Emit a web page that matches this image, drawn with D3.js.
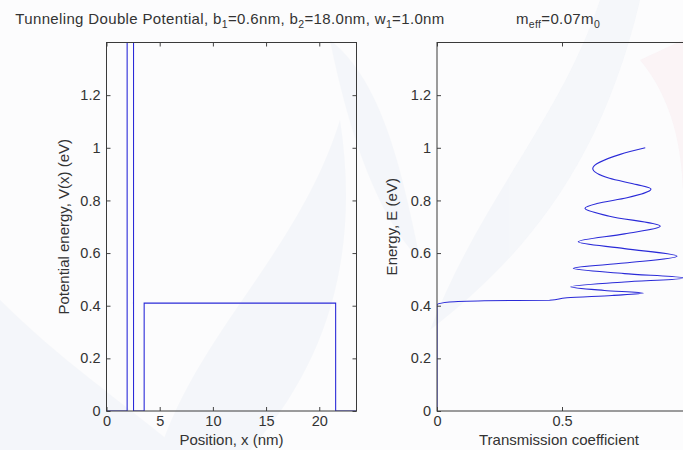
<!DOCTYPE html>
<html>
<head>
<meta charset="utf-8">
<script src="https://cdn.jsdelivr.net/npm/d3@7"></script>
<style>
  body { margin: 0; background: #fcfcfd; }
  svg { display: block; font-family: "Liberation Sans", Arial, sans-serif; }
  .tick text { fill: #333; font-size: 14.5px; }
  .lbl { fill: #333; font-size: 15px; }
  .ttl { letter-spacing: 0.35px; }
</style>
</head>
<body>
<div class="chart"></div>
<script>
// potential profile (nm, eV) - first barrier goes off the top of the plot
var position = [0, 1.94, 1.94, 2.54, 2.54, 3.54, 3.54, 21.54, 21.54, 23.5];
var potential = [0, 0, 3, 3, 0, 0, 0.41, 0.41, 0, 0];

// transmission vs energy
var energy = [0, 0.404, 0.414, 0.419, 0.421, 0.430, 0.439, 0.448, 0.458, 0.472, 0.490, 0.505, 0.522, 0.542, 0.562, 0.588, 0.617, 0.643, 0.673, 0.702, 0.740, 0.770, 0.788, 0.810, 0.843, 0.860, 0.884, 0.921, 0.975, 1.0];
var trans  = [0, 0.0, 0.05, 0.19, 0.45, 0.52, 0.70, 0.826, 0.67, 0.535, 0.75, 0.99, 0.75, 0.545, 0.75, 0.96, 0.75, 0.565, 0.75, 0.893, 0.69, 0.592, 0.64, 0.76, 0.856, 0.80, 0.69, 0.623, 0.733, 0.833];

var yTicks = [0, 0.2, 0.4, 0.6, 0.8, 1, 1.2];
var posTicks = [0, 5, 10, 15, 20];
var transTicks = [0, 0.5];   // the "1" sits past the right edge of the picture

var svgWidth = 683, svgHeight = 450;
var plotTop = 42.5, plotBottom = 411;
var leftBox = {x0: 106.5, x1: 356.5};
var rightBox = {x0: 437, x1: 687};
var lineColor = "#2a2ad8";

var svg = d3.select(".chart").append("svg")
    .attr("width", svgWidth)
    .attr("height", svgHeight);

// faint watermark shapes behind everything
var wm = svg.append("g").attr("fill", "#eef2f8").attr("opacity", 0.5);
wm.append("path").attr("d", "M160,450 C200,330 300,250 340,120 C360,250 330,360 250,450 Z");
wm.append("path").attr("d", "M330,40 C380,80 400,160 420,260 C380,220 350,140 330,40 Z");
wm.append("path").attr("d", "M600,0 C560,120 480,200 430,330 C520,260 600,170 640,0 Z");
wm.append("path").attr("d", "M0,300 C60,360 120,400 180,450 L0,450 Z");
svg.append("path").attr("d", "M640,60 C690,120 683,200 683,240 L683,40 Z")
    .attr("fill", "#f9ecef").attr("opacity", 0.5);

var yScale = d3.scaleLinear().domain([0, 1.4]).range([plotBottom, plotTop]);
var xPos = d3.scaleLinear().domain([0, 23.5]).range([leftBox.x0, leftBox.x1]);
var xTrans = d3.scaleLinear().domain([0, 1]).range([rightBox.x0, rightBox.x1]);

var fmt = function(d) { return String(+d.toFixed(1)); };

svg.append("clipPath").attr("id", "clipL").append("rect")
    .attr("x", leftBox.x0).attr("y", plotTop)
    .attr("width", leftBox.x1 - leftBox.x0).attr("height", plotBottom - plotTop);
svg.append("clipPath").attr("id", "clipR").append("rect")
    .attr("x", rightBox.x0).attr("y", plotTop)
    .attr("width", rightBox.x1 - rightBox.x0).attr("height", plotBottom - plotTop);

function drawAxes(xScale, xTicks, box) {
    var g = svg.append("g");
    g.append("g").attr("transform", `translate(0,${plotBottom})`)
        .call(d3.axisBottom(xScale).tickValues(xTicks).tickFormat(fmt)
            .tickSize(-4).tickSizeOuter(0).tickPadding(5));
    g.append("g").attr("transform", `translate(0,${plotTop})`)
        .call(d3.axisTop(xScale).tickValues(xTicks).tickFormat("")
            .tickSize(-4).tickSizeOuter(0));
    g.append("g").attr("transform", `translate(${box.x0},0)`)
        .call(d3.axisLeft(yScale).tickValues(yTicks).tickFormat(fmt)
            .tickSize(-4).tickSizeOuter(0).tickPadding(6));
    g.append("g").attr("transform", `translate(${box.x1},0)`)
        .call(d3.axisRight(yScale).tickValues(yTicks).tickFormat("")
            .tickSize(-4).tickSizeOuter(0));
    g.selectAll(".domain").remove();
    g.selectAll(".tick line").attr("stroke", "#444");
    g.selectAll(".tick text").attr("font-family", null).attr("font-size", null);
    g.append("rect")
        .attr("x", box.x0).attr("y", plotTop)
        .attr("width", box.x1 - box.x0).attr("height", plotBottom - plotTop)
        .attr("fill", "none").attr("stroke", "#3a3a3a").attr("stroke-width", 1);
    return g;
}

// left: potential profile
var potData = position.map(function(x, i) { return {x: x, v: potential[i]}; });
svg.append("path")
    .datum(potData)
    .attr("clip-path", "url(#clipL)")
    .attr("fill", "none")
    .attr("stroke", lineColor)
    .attr("stroke-width", 1.1)
    .attr("d", d3.line().x(d => xPos(d.x)).y(d => yScale(d.v)));
drawAxes(xPos, posTicks, leftBox);

// right: transmission coefficient
var tData = energy.map(function(e, i) { return {e: e, t: trans[i]}; });
svg.append("path")
    .datum(tData)
    .attr("clip-path", "url(#clipR)")
    .attr("fill", "none")
    .attr("stroke", lineColor)
    .attr("stroke-width", 1.1)
    .attr("d", d3.line().curve(d3.curveMonotoneY).x(d => xTrans(d.t)).y(d => yScale(d.e)));
drawAxes(xTrans, transTicks, rightBox);

// axis labels
svg.append("text").attr("class", "lbl")
    .attr("x", (leftBox.x0 + leftBox.x1) / 2).attr("y", 445)
    .attr("text-anchor", "middle").text("Position, x (nm)");
svg.append("text").attr("class", "lbl")
    .attr("x", (rightBox.x0 + rightBox.x1) / 2 - 3).attr("y", 445)
    .attr("text-anchor", "middle").text("Transmission coefficient");
svg.append("text").attr("class", "lbl")
    .attr("transform", `translate(69, ${(plotTop + plotBottom) / 2}) rotate(-90)`)
    .attr("text-anchor", "middle").text("Potential energy, V(x) (eV)");
svg.append("text").attr("class", "lbl")
    .attr("transform", `translate(397, ${(plotTop + plotBottom) / 2}) rotate(-90)`)
    .attr("text-anchor", "middle").text("Energy, E (eV)");

// titles with subscripts
function subTitle(x, parts) {
    var t = svg.append("text").attr("class", "lbl ttl")
        .attr("x", x).attr("y", 24).attr("text-anchor", "middle");
    parts.forEach(function(p) {
        if (p[1]) {
            t.append("tspan").attr("dy", 4).attr("font-size", "10.5px").text(p[0]);
        } else {
            t.append("tspan").attr("dy", p[2] ? -4 : 0).text(p[0]);
        }
    });
    return t;
}
subTitle(230, [["Tunneling Double Potential, b"], ["1", true], ["=0.6nm, b", false, true],
    ["2", true], ["=18.0nm, w", false, true], ["1", true], ["=1.0nm", false, true]]);
subTitle(558, [["m"], ["eff", true], ["=0.07m", false, true], ["0", true]]);
</script>
</body>
</html>
